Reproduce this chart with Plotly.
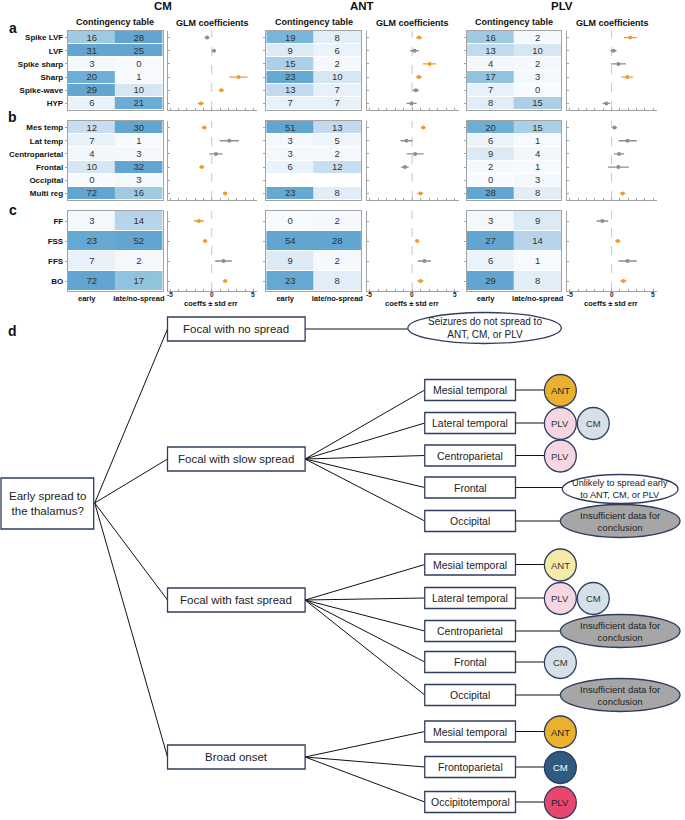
import plotly.graph_objects as go

W, H = 685, 820
FONT = "Liberation Sans, Arial, sans-serif"

# ---------------- data ----------------
groups = ["CM", "ANT", "PLV"]
rows_a = ["Spike LVF", "LVF", "Spike sharp", "Sharp", "Spike-wave", "HYP"]
rows_b = ["Mes temp", "Lat temp", "Centroparietal", "Frontal", "Occipital", "Multi reg"]
rows_c = ["FF", "FSS", "FFS", "BO"]
cols = ["early", "late/no-spread"]

# contingency counts
cm_a_early = [16, 31, 3, 20, 29, 6]
cm_a_late = [28, 25, 0, 1, 10, 21]
cm_b_early = [12, 7, 4, 10, 0, 72]
cm_b_late = [30, 1, 3, 32, 3, 16]
cm_c_early = [3, 23, 7, 72]
cm_c_late = [14, 52, 2, 17]

ant_a_early = [19, 9, 15, 23, 13, 7]
ant_a_late = [8, 6, 2, 10, 7, 7]
ant_b_early = [51, 3, 3, 6, None, 23]
ant_b_late = [13, 5, 2, 12, None, 8]
ant_c_early = [0, 54, 9, 23]
ant_c_late = [2, 28, 2, 8]

plv_a_early = [16, 13, 4, 17, 7, 8]
plv_a_late = [2, 10, 2, 3, 0, 15]
plv_b_early = [20, 6, 9, 2, 0, 28]
plv_b_late = [15, 1, 4, 1, 3, 8]
plv_c_early = [3, 27, 6, 29]
plv_c_late = [9, 14, 1, 8]

# GLM coefficients, std errors, significance
cm_a_coef = [-0.56, 0.27, None, 3.2, 1.15, -1.3]
cm_a_err = [0.3, 0.15, None, 1.07, 0.3, 0.35]
cm_a_sig = [0, 0, 0, 1, 1, 1]
cm_b_coef = [-0.9, 2.1, 0.5, -1.2, None, 1.6]
cm_b_err = [0.3, 1.15, 0.8, 0.3, None, 0.25]
cm_b_sig = [1, 0, 0, 1, 0, 1]
cm_c_coef = [-1.55, -0.8, 1.4, 1.6]
cm_c_err = [0.6, 0.25, 1.0, 0.25]
cm_c_sig = [1, 1, 0, 1]

ant_a_coef = [0.81, 0.27, 2.05, 0.78, 0.43, -0.08]
ant_a_err = [0.35, 0.5, 0.78, 0.35, 0.35, 0.6]
ant_a_sig = [1, 0, 1, 1, 0, 0]
ant_b_coef = [1.3, -0.66, 0.35, -0.85, None, 0.97]
ant_b_err = [0.3, 0.7, 1.0, 0.45, None, 0.35]
ant_b_sig = [1, 0, 0, 0, 0, 1]
ant_c_coef = [None, 0.58, 1.43, 0.97]
ant_c_err = [None, 0.15, 0.78, 0.35]
ant_c_sig = [0, 1, 0, 1]

plv_a_coef = [2.24, 0.24, 0.82, 1.88, None, -0.63]
plv_a_err = [0.77, 0.35, 0.9, 0.67, None, 0.45]
plv_a_sig = [1, 0, 0, 1, 0, 0]
plv_b_coef = [0.35, 1.92, 0.9, 0.82, None, 1.33]
plv_b_err = [0.3, 1.1, 0.6, 1.25, None, 0.35]
plv_b_sig = [0, 0, 0, 0, 0, 1]
plv_c_coef = [-1.1, 0.74, 1.92, 1.41]
plv_c_err = [0.7, 0.3, 1.1, 0.35]
plv_c_sig = [0, 1, 0, 1]

glm_ticks = [-5, -4, -3, -2, -1, 0, 1, 2, 3, 4, 5]
glm_labeled_ticks = [-5, 0, 5]

# decision tree text
root_label = "Early spread to<br>the thalamus?"
level1 = ["Focal with no spread", "Focal with slow spread", "Focal with fast spread", "Broad onset"]
nospread_note = "Seizures do not spread to<br>ANT, CM, or PLV"
slow_branches = ["Mesial temporal", "Lateral temporal", "Centroparietal", "Frontal", "Occipital"]
fast_branches = ["Mesial temporal", "Lateral temporal", "Centroparietal", "Frontal", "Occipital"]
broad_branches = ["Mesial temporal", "Frontoparietal", "Occipitotemporal"]
slow_out = [["ANT"], ["PLV", "CM"], ["PLV"], "unlikely", "insufficient"]
fast_out = [["ANT"], ["PLV", "CM"], "insufficient", ["CM"], "insufficient"]
broad_out = [["ANT"], ["CM"], ["PLV"]]
unlikely_note = "Unlikely to spread early<br>to ANT, CM, or PLV"
insufficient_note = "Insufficient data for<br>conclusion"

# ---------------- styles / layout positions ----------------
ORANGE = "#F39A26"
GREY = "#8E8E8E"
AXC = "#a3a3a3"
NAVY = "#2F3E5E"
ZMAX = 25
CS = [[0 / 25, "#f7fbff"], [4 / 25, "#f2f7fc"], [7 / 25, "#e8f1f9"], [10 / 25, "#d6e6f3"],
      [13 / 25, "#c2d9ee"], [16 / 25, "#a0cae2"], [18 / 25, "#82bbdb"], [20 / 25, "#6eaed6"],
      [23 / 25, "#65a8d2"], [1.0, "#62a5d0"]]
node_colors = {
    "slow": {"ANT": ("#EBB12E", "#222"), "PLV": ("#F5D6E1", "#333"), "CM": ("#D5E0E8", "#333")},
    "fast": {"ANT": ("#F6EAA8", "#333"), "PLV": ("#F5D6E1", "#333"), "CM": ("#D5E0E8", "#333")},
    "broad": {"ANT": ("#EBB12E", "#222"), "CM": ("#2E5A80", "#ffffff"), "PLV": ("#E8466F", "#222")},
}

HM_X = [(68, 163), (267, 362), (468, 563)]
GLM_X = [(168, 258), (368, 460), (569, 659)]
PANEL_Y = [(31, 110), (121, 200), (211, 291)]


def fx(x):
    return x / W


def fy(y):
    return 1 - y / H


data = {
    "CM": [(cm_a_early, cm_a_late, cm_a_coef, cm_a_err, cm_a_sig),
           (cm_b_early, cm_b_late, cm_b_coef, cm_b_err, cm_b_sig),
           (cm_c_early, cm_c_late, cm_c_coef, cm_c_err, cm_c_sig)],
    "ANT": [(ant_a_early, ant_a_late, ant_a_coef, ant_a_err, ant_a_sig),
            (ant_b_early, ant_b_late, ant_b_coef, ant_b_err, ant_b_sig),
            (ant_c_early, ant_c_late, ant_c_coef, ant_c_err, ant_c_sig)],
    "PLV": [(plv_a_early, plv_a_late, plv_a_coef, plv_a_err, plv_a_sig),
            (plv_b_early, plv_b_late, plv_b_coef, plv_b_err, plv_b_sig),
            (plv_c_early, plv_c_late, plv_c_coef, plv_c_err, plv_c_sig)],
}
row_sets = [rows_a, rows_b, rows_c]

fig = go.Figure()
layout = dict(width=W, height=H, margin=dict(l=0, r=0, t=0, b=0, pad=0),
              plot_bgcolor="white", paper_bgcolor="white", showlegend=False,
              font=dict(family=FONT, color="#222"))
shapes = []
annotations = []


def axname(prefix, n):
    return prefix + ("" if n == 1 else str(n))


def label(x, y, text, size, color="#222"):
    annotations.append(dict(xref="paper", yref="paper", x=fx(x), y=fy(y), text=text, showarrow=False,
                            xanchor="center", yanchor="middle",
                            font=dict(size=size, color=color, family=FONT)))


for g, grp in enumerate(groups):
    for p in range(3):
        early, late, coef, err, sig = data[grp][p]
        rows = row_sets[p]
        nr = len(rows)
        nh = g * 6 + p * 2 + 1
        ng = nh + 1
        y0, y1 = PANEL_Y[p]
        # heatmap
        z = [[early[i], late[i]] for i in range(nr)]
        txt = [["" if v is None else str(v) for v in row] for row in z]
        fig.add_trace(go.Heatmap(z=z, x=[0, 1], y=list(range(nr)), text=txt,
                                 texttemplate="%{text}", textfont=dict(size=9.5, color="#333", family=FONT),
                                 colorscale=CS, zmin=0, zmax=ZMAX, showscale=False, ygap=1,
                                 hoverinfo="skip", xaxis=axname("x", nh), yaxis=axname("y", nh)))
        layout[axname("xaxis", nh)] = dict(
            domain=[fx(HM_X[g][0]), fx(HM_X[g][1])], anchor=axname("y", nh), range=[-0.5, 1.5],
            tickvals=[-0.1, 1], ticktext=["<b>" + c + "</b>" for c in cols], showticklabels=(p == 2),
            tickfont=dict(size=7.5, color="#111"), ticks="", showline=True, mirror=True,
            linecolor=AXC, linewidth=1, showgrid=False, zeroline=False, fixedrange=True)
        layout[axname("yaxis", nh)] = dict(
            domain=[fy(y1), fy(y0)], anchor=axname("x", nh), range=[nr - 0.5, -0.5],
            tickvals=list(range(nr)), ticktext=["<b>" + r + "</b>" for r in rows],
            showticklabels=(g == 0), tickfont=dict(size=8, color="#111"),
            ticks="outside", ticklen=2, tickcolor=AXC, showline=True, mirror=True,
            linecolor=AXC, linewidth=1, showgrid=False, zeroline=False, fixedrange=True)
        # GLM
        for sv, colr in [(0, GREY), (1, ORANGE)]:
            xs = [c if (c is not None and s == sv) else None for c, s in zip(coef, sig)]
            es = [e if (c is not None and s == sv) else 0 for c, e, s in zip(coef, err, sig)]
            fig.add_trace(go.Scatter(x=xs, y=list(range(nr)), mode="markers",
                                     marker=dict(color=colr, size=4),
                                     error_x=dict(type="data", array=es, color=colr, thickness=1.3, width=0),
                                     hoverinfo="skip", xaxis=axname("x", ng), yaxis=axname("y", ng)))
        layout[axname("xaxis", ng)] = dict(
            domain=[fx(GLM_X[g][0]), fx(GLM_X[g][1])], anchor=axname("y", ng), range=[-5.3, 5.45],
            tickvals=glm_ticks, showticklabels=False, ticks="inside", ticklen=2, tickcolor=AXC,
            showline=True, linecolor=AXC, linewidth=1, showgrid=False, zeroline=False, fixedrange=True)
        layout[axname("yaxis", ng)] = dict(
            domain=[fy(y1), fy(y0)], anchor=axname("x", ng), range=[nr - 0.5, -0.5],
            tickvals=list(range(nr)), showticklabels=False, ticks="inside", ticklen=2, tickcolor=AXC,
            showline=True, linecolor=AXC, linewidth=1, showgrid=False, zeroline=False, fixedrange=True)
        shapes.append(dict(type="line", xref=axname("x", ng), yref=axname("y", ng) + " domain",
                           x0=0, x1=0, y0=0, y1=1, line=dict(color="#c8c8c8", width=1, dash="dash"),
                           layer="below"))
        if p == 2:
            for tv in glm_labeled_ticks:
                annotations.append(dict(xref=axname("x", ng), yref="paper", x=tv, y=fy(294.5),
                                        text="<b>%d</b>" % tv, showarrow=False, xanchor="center",
                                        yanchor="middle", font=dict(size=6.5, color="#222", family=FONT)))
    # group titles
    cx = (HM_X[g][0] + GLM_X[g][1]) / 2
    label(cx, 6, "<b>" + grp + "</b>", 11.5, "#111")
    label((HM_X[g][0] + HM_X[g][1]) / 2, 22, "<b>Contingency table</b>", 9, "#111")
    label((GLM_X[g][0] + GLM_X[g][1]) / 2, 23, "<b>GLM coefficients</b>", 9, "#111")
    label((GLM_X[g][0] + GLM_X[g][1]) / 2 - 1, 303, "<b>coeffs ± std err</b>", 7.5, "#111")

for lab, yy in [("a", 28), ("b", 117), ("c", 210), ("d", 331)]:
    label(13, yy, "<b>" + lab + "</b>", 14, "#111")

# ---------------- decision tree ----------------
ROOT = (1, 94, 478, 529)
ROOT_PT = (95, 503)
L1_X = (168, 306)
L1_Y = [329, 459, 600, 757]
L1_HH = 12
BR_X = (426, 517)
BR_HH = 10.5
slow_y = [390, 423, 455.5, 487.5, 521]
fast_y = [564.5, 598, 631, 662, 695]
broad_y = [731.5, 767, 802]
CIRC_X = [562, 595]
CIRC_R = 16
ELL_CX, ELL_HW, ELL_HH = 622, 60, 16.5


def line(x0, y0, x1, y1, color="#111", width=1):
    shapes.append(dict(type="line", xref="paper", yref="paper", x0=fx(x0), y0=fy(y0), x1=fx(x1), y1=fy(y1),
                       line=dict(color=color, width=width)))


def rect(x0, y0, x1, y1, fill="white"):
    shapes.append(dict(type="rect", xref="paper", yref="paper", x0=fx(x0), y0=fy(y1), x1=fx(x1), y1=fy(y0),
                       fillcolor=fill, line=dict(color=NAVY, width=1.3)))


def ellipse(cx, cy, hw, hh, fill):
    shapes.append(dict(type="circle", xref="paper", yref="paper", x0=fx(cx - hw), y0=fy(cy + hh),
                       x1=fx(cx + hw), y1=fy(cy - hh), fillcolor=fill, line=dict(color=NAVY, width=1.3)))


# lines from root
for cy in L1_Y:
    line(ROOT_PT[0], ROOT_PT[1], L1_X[0], cy)
# no spread
line(L1_X[1], L1_Y[0], 409, L1_Y[0])
branch_sets = [("slow", slow_branches, slow_y, slow_out, L1_Y[1]),
               ("fast", fast_branches, fast_y, fast_out, L1_Y[2]),
               ("broad", broad_branches, broad_y, broad_out, L1_Y[3])]
for key, names, ys, outs, py in branch_sets:
    for nm, by, out in zip(names, ys, outs):
        line(L1_X[1], py, BR_X[0], by)
        if isinstance(out, list):
            line(BR_X[1], by, CIRC_X[0] - CIRC_R, by)
        else:
            line(BR_X[1], by, ELL_CX - ELL_HW + 2, by)

# boxes
rect(ROOT[0], ROOT[2], ROOT[1], ROOT[3])
label((ROOT[0] + ROOT[1]) / 2, (ROOT[2] + ROOT[3]) / 2, root_label, 11.5)
for nm, cy in zip(level1, L1_Y):
    rect(L1_X[0], cy - L1_HH, L1_X[1], cy + L1_HH)
    label((L1_X[0] + L1_X[1]) / 2, cy, nm, 11.5)
ellipse(486, 328, 77, 15.5, "white")
label(486, 328, nospread_note, 10)

for key, names, ys, outs, py in branch_sets:
    for nm, by, out in zip(names, ys, outs):
        rect(BR_X[0], by - BR_HH, BR_X[1], by + BR_HH)
        label((BR_X[0] + BR_X[1]) / 2, by, nm, 10.5)
        if isinstance(out, list):
            for k, nuc in enumerate(out):
                fill, tc = node_colors[key][nuc]
                ellipse(CIRC_X[k], by + 0.5, CIRC_R, CIRC_R, fill)
                label(CIRC_X[k], by + 0.5, nuc, 9.5, tc)
        elif out == "unlikely":
            ellipse(ELL_CX, by + 1.5, 58, 14.5, "white")
            label(ELL_CX, by + 1.5, unlikely_note, 9.2)
        else:
            ellipse(ELL_CX, by, ELL_HW, ELL_HH, "#A6A6A6")
            label(ELL_CX, by, insufficient_note, 9.5)

layout["shapes"] = shapes
layout["annotations"] = annotations
fig.update_layout(**layout)
fig.write_html("out.html", config={"displayModeBar": False},
               post_script="document.body.style.margin='0';")
